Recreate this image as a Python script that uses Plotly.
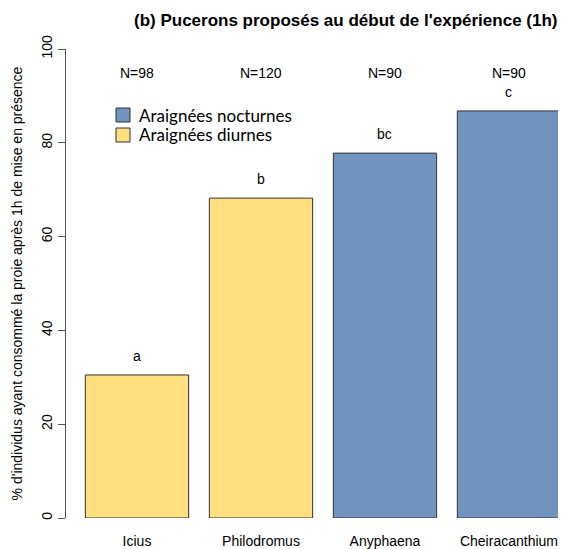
import plotly.graph_objects as go

species = ["Icius", "Philodromus", "Anyphaena", "Cheiracanthium"]
group = ["diurnes", "diurnes", "nocturnes", "nocturnes"]
pct = [30.5, 68.2, 77.8, 86.8]
n_labels = ["N=98", "N=120", "N=90", "N=90"]
letters = ["a", "b", "bc", "c"]
yticks = [0, 20, 40, 60, 80, 100]
legend_names = ["Araignées nocturnes", "Araignées diurnes"]

c_noct = "#7093BF"
c_diur = "#FFDF80"
font = "Liberation Sans, Arial, sans-serif"
legend_font = "Lato, Open Sans, sans-serif"

# page has an 8px body margin: figure coords = screen coords - 8
W, H = 558, 541
L, T, B = 58, 41, 31
PW, PH = W - L, H - T - B


def px(xs):
    return (xs - 8 - L) / PW


def py(ys):
    return (H - B - (ys - 8)) / PH


fig = go.Figure()
noct_x = [s for s, g in zip(species, group) if g == "nocturnes"]
noct_y = [v for v, g in zip(pct, group) if g == "nocturnes"]
diur_x = [s for s, g in zip(species, group) if g == "diurnes"]
diur_y = [v for v, g in zip(pct, group) if g == "diurnes"]

fig.add_trace(go.Bar(x=noct_x, y=noct_y, name=legend_names[0], width=0.833, showlegend=False,
                     marker=dict(color=c_noct, line=dict(color="#333333", width=1))))
fig.add_trace(go.Bar(x=diur_x, y=diur_y, name=legend_names[1], width=0.833, showlegend=False,
                     marker=dict(color=c_diur, line=dict(color="#333333", width=1))))

for s, v, n, l in zip(species, pct, n_labels, letters):
    fig.add_annotation(x=s, y=94.9, text=n, showarrow=False, xref="x", yref="y",
                       font=dict(size=14, color="black", family=font), yanchor="middle")
    fig.add_annotation(x=s, y=v, text=l, showarrow=False, xref="x", yref="y",
                       yanchor="bottom", yshift=9,
                       font=dict(size=14, color="black", family=font))

fig.add_annotation(x=px(345), y=py(20), xref="paper", yref="paper",
                   text="<b>(b) Pucerons proposés au début de l'expérience (1h)</b>",
                   showarrow=False, yanchor="middle",
                   font=dict(size=17, color="black", family=font))

# manual legend
for i, (name, col) in enumerate(zip(legend_names, [c_noct, c_diur])):
    y0 = 108 + 20 * i
    fig.add_shape(type="rect", xref="paper", yref="paper",
                  x0=px(116), x1=px(130), y0=py(y0 + 14), y1=py(y0),
                  fillcolor=col, line=dict(color="#333333", width=1))
    fig.add_annotation(x=px(137), y=py(y0 + 7), xref="paper", yref="paper", text=name,
                       showarrow=False, xanchor="left", yanchor="middle",
                       font=dict(size=17, family=legend_font, color="black"))

fig.update_layout(
    width=W, height=H,
    margin=dict(l=L, r=0, t=T, b=B, autoexpand=False),
    plot_bgcolor="white", paper_bgcolor="white",
    barmode="overlay",
    showlegend=False,
    xaxis=dict(type="category", categoryorder="array", categoryarray=species,
               range=[-0.5726, 3.46], showline=False, showgrid=False, zeroline=False,
               automargin=False,
               ticks="outside", ticklen=10, tickcolor="rgba(0,0,0,0)",
               tickfont=dict(size=14, family=font, color="black")),
    yaxis=dict(range=[0, 100], tickvals=yticks, showgrid=False, zeroline=False,
               automargin=False,
               showline=True, linecolor="#555555", linewidth=1,
               ticks="outside", ticklen=7, tickcolor="#555555", tickangle=-90,
               tickfont=dict(size=14, family=font, color="black"),
               title=dict(text="% d'individus ayant consommé la proie après 1h de mise en présence",
                          font=dict(size=14, family=font, color="black"), standoff=13)),
)

fig.write_html("out.html")
